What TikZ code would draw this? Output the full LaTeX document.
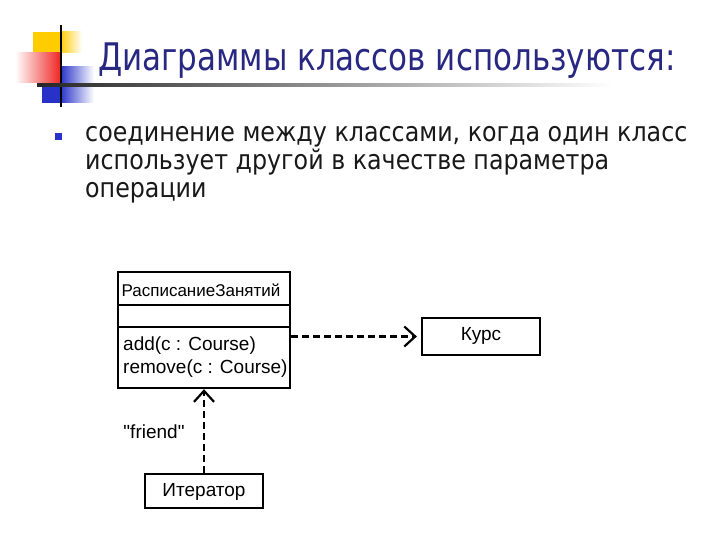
\documentclass[tikz,border=0pt]{standalone}
\usepackage{fontspec}
\setmainfont{DejaVu Sans}
\newfontfamily\tahoma{DejaVu Sans}[FakeStretch=0.88]
\newfontfamily\tahomatitle{DejaVu Sans}[FakeStretch=0.815]
\newfontfamily\arialf{Liberation Sans}
\usetikzlibrary{arrows.meta}
\definecolor{titleblue}{RGB}{40,40,130}
\definecolor{logoyellow}{RGB}{255,204,0}
\definecolor{logored}{RGB}{240,40,40}
\definecolor{logoblue}{RGB}{40,50,200}
\tikzset{
  umlbox/.style={draw=black, line width=2.2pt, fill=white, inner sep=0pt},
  umltext/.style={font=\arialf\fontsize{19}{21}\selectfont, inner sep=0pt},
  dep/.style={line width=2.2pt, dash pattern=on 7pt off 4pt, -{Straight Barb[length=11pt,width=20pt,line width=2.2pt]}},
  bodytext/.style={font=\tahoma\fontsize{27}{30}\selectfont, anchor=base west, inner sep=0pt, text=black!90},
}
\begin{document}
\begin{tikzpicture}[x=1pt,y=-1pt]
\useasboundingbox (0,0) rectangle (720,540);
\fill[white] (0,0) rectangle (720,540);
% logo
\fill[logoyellow] (33,32) rectangle (60,53);
\shade[left color=logoyellow, right color=white] (60,32) rectangle (82,53);
\shade[left color=white, right color=logored] (15,53) rectangle (60,83);
\shade[left color=logoblue, right color=white] (60,67) rectangle (94,85);
\fill[logoblue] (42,85) rectangle (60,103);
\shade[left color=logoblue, right color=white] (60,85) rectangle (94,103);
\draw[line width=2pt, black] (61,25) -- (61,107);
\shade[left color=black!85, right color=white] (37,84) rectangle (613,86.5);
% title
\node[font=\tahomatitle\fontsize{38}{42}\selectfont, text=titleblue, anchor=base west, inner sep=0pt] (title) at (98,71) {Диаграммы классов используются:};
% bullet
\fill[logoblue] (55,133) rectangle (62,140);
\node[bodytext] (l1) at (85,142) {соединение между классами, когда один класс};
\node[bodytext] (l2) at (85,170) {использует другой в качестве параметра};
\node[bodytext] (l3) at (85,198) {операции};
% class box
\node[umlbox, minimum width=172pt, minimum height=116pt, anchor=north west] (cls) at (117,271) {};
\draw[line width=2.2pt] (117,305) -- (289,305);
\draw[line width=2.2pt] (117,327) -- (289,327);
\node[umltext, font=\arialf\fontsize{17}{19}\selectfont, anchor=center] (clsname) at (201,290) {РасписаниеЗанятий};
\node[umltext, anchor=base west] (op1) at (123,350) {add(c : Course)};
\node[umltext, anchor=base west] (op2) at (123,373) {remove(c : Course)};
% other boxes
\node[umlbox, minimum width=118pt, minimum height=37pt] (kurs) at (481,336.5) {};
\node[umltext] (kursname) at (481,336) {Курс};
\node[umlbox, minimum width=118pt, minimum height=34pt] (iter) at (204,491) {};
\node[umltext] (itername) at (204,492) {Итератор};
% connectors
\draw[dep, shorten >=4pt] (cls.east |- kurs.west) -- (kurs.west);
\draw[dep] (iter.north) -- (iter.north |- cls.south);
\node[umltext] (friend) at (154,432) {"friend"};
\end{tikzpicture}
\end{document}
